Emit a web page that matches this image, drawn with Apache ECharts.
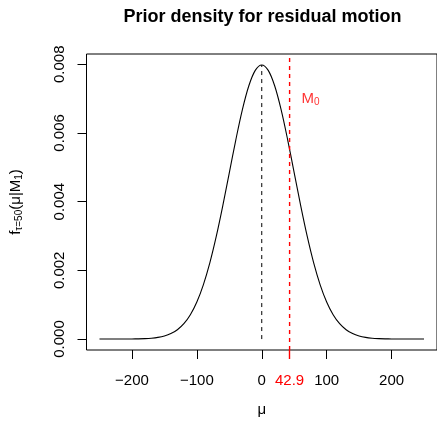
<!DOCTYPE html>
<html>
<head>
<meta charset="utf-8">
<script src="https://cdn.jsdelivr.net/npm/echarts@6/dist/echarts.min.js"></script>
<style>html,body{margin:0;padding:0;background:#fff;}#c{width:437px;height:422px;}</style>
</head>
<body>
<div id="c"></div>
<script>
// Data
var mu = [-250,-240,-230,-220,-210,-200,-190,-180,-170,-160,-150,-140,-130,-120,-110,-100,-90,-80,-70,-60,-50,-40,-30,-20,-10,0,10,20,30,40,50,60,70,80,90,100,110,120,130,140,150,160,170,180,190,200,210,220,230,240,250];
var density = [0.0000000,0.0000001,0.0000004,0.0000010,0.0000012,0.0000027,0.0000058,0.0000122,0.0000246,0.0000477,0.0000886,0.0001583,0.0002717,0.0004479,0.0007095,0.0010798,0.0015790,0.0022184,0.0029945,0.0038837,0.0048394,0.0057938,0.0066645,0.0073654,0.0078209,0.0079788,0.0078209,0.0073654,0.0066645,0.0057938,0.0048394,0.0038837,0.0029945,0.0022184,0.0015790,0.0010798,0.0007095,0.0004479,0.0002717,0.0001583,0.0000886,0.0000477,0.0000246,0.0000122,0.0000058,0.0000027,0.0000012,0.0000010,0.0000004,0.0000001,0.0000000];
var priorMean = 0;
var priorPeak = 0.0079788;
var observed = 42.9;
var m0LabelY = 0.0070;
var xTicks = [-200,-100,0,100,200];
var yTicks = [0,0.002,0.004,0.006,0.008];
var xMin = -270, xMax = 270;
var yMin = -0.000319, yMax = 0.008298;

var FONT = 'Liberation Sans, Arial, Helvetica, sans-serif';
var RED = '#ff0000';
var curve = mu.map(function(x,i){return [x,density[i]];});

var chart = echarts.init(document.getElementById('c'), null, {renderer:'canvas'});
chart.setOption({
  animation:false,
  backgroundColor:'#fff',
  textStyle:{fontFamily:FONT},
  graphic:[{
    type:'text', x:262.5, y:17.5,
    style:{text:'Prior density for residual motion', textAlign:'center', textVerticalAlign:'middle',
      font:'bold 18px ' + FONT, fill:'#000'}
  }],
  grid:{left:86, top:54, width:353, height:296, show:true, borderColor:'#000', borderWidth:1, backgroundColor:'transparent'},
  xAxis:[{
    type:'value', min:xMin, max:xMax, position:'bottom',
    name:'μ', nameLocation:'middle', nameGap:52,
    nameTextStyle:{fontSize:15, color:'#000', fontFamily:FONT},
    axisLine:{show:false, onZero:false},
    splitLine:{show:false},
    axisTick:{show:true, inside:false, customValues:xTicks, length:9, lineStyle:{color:'#000', width:1}},
    axisLabel:{
      customValues:xTicks, margin:23, fontSize:15, color:'#000', fontFamily:FONT,
      formatter:function(v){ return v<0 ? '\u2212' + Math.abs(v) : String(v); }
    }
  },{
    type:'value', min:xMin, max:xMax, position:'bottom', offset:0,
    axisLine:{show:false, onZero:false},
    splitLine:{show:false},
    axisTick:{show:true, inside:false, customValues:[observed], length:9, lineStyle:{color:RED, width:1.4}},
    axisLabel:{
      customValues:[observed], margin:23, fontSize:15, color:RED, fontFamily:FONT,
      formatter:function(v){ return v.toFixed(1); }
    }
  }],
  yAxis:{
    type:'value', min:yMin, max:yMax,
    name:'{n|f}{s|τ=50}{n|(μ|M}{s|1}{n|)}', nameLocation:'middle', nameGap:62, nameRotate:90,
    nameTextStyle:{color:'#000', rich:{
      n:{fontSize:15, fontFamily:FONT, color:'#000', lineHeight:18, verticalAlign:'middle'},
      s:{fontSize:10, fontFamily:FONT, color:'#000', lineHeight:18, verticalAlign:'bottom'}
    }},
    axisLine:{show:false, onZero:false},
    splitLine:{show:false},
    axisTick:{show:true, inside:false, customValues:yTicks, length:9, lineStyle:{color:'#000', width:1}},
    axisLabel:{customValues:yTicks, rotate:90, margin:19, fontSize:15, color:'#000', fontFamily:FONT,
      formatter:function(v){return v.toFixed(3);}}
  },
  series:[
    {type:'line', data:curve, showSymbol:false, smooth:0.35, lineStyle:{color:'#000', width:1.1}, z:3},
    {type:'line', data:[[priorMean,0],[priorMean,priorPeak]], showSymbol:false,
     lineStyle:{color:'#000', width:1, type:[4,4]}, z:2},
    {type:'line', data:[[observed,yMin],[observed,yMax]], showSymbol:false, silent:true,
     color:RED, itemStyle:{color:RED},
     lineStyle:{color:RED, width:1.4, opacity:1, type:[4,4]}, z:4},
    {type:'scatter', data:[[observed, m0LabelY]], symbolSize:0, silent:true,
     label:{show:true, position:'right', distance:12,
       formatter:'{m|M}{s|0}',
       rich:{m:{fontSize:15, color:RED, fontFamily:FONT, lineHeight:18, verticalAlign:'middle'},
             s:{fontSize:10, color:RED, fontFamily:FONT, lineHeight:18, verticalAlign:'bottom'}}}}
  ]
});
</script>
</body>
</html>
